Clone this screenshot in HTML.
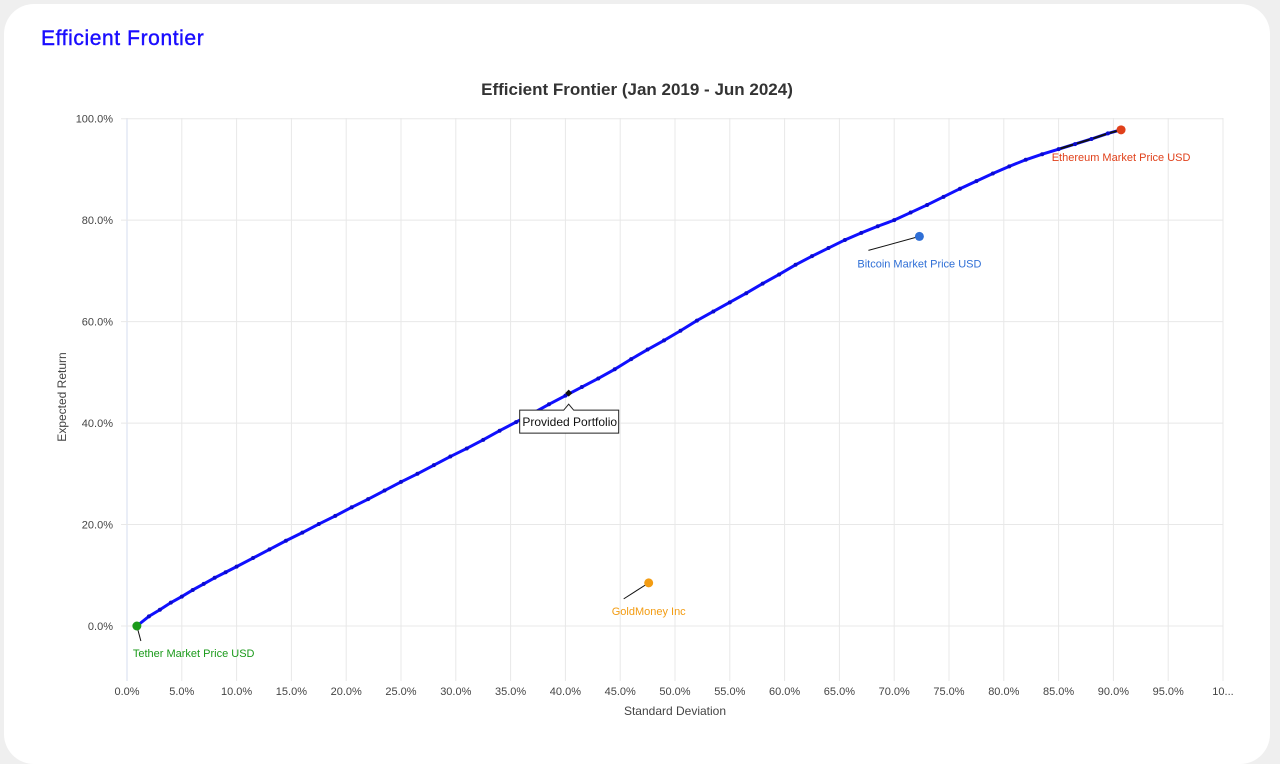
<!DOCTYPE html>
<html><head><meta charset="utf-8"><style>
body{margin:0;background:#efefef;width:1280px;height:733px;overflow:hidden;font-family:"Liberation Sans",sans-serif}
#card{position:absolute;left:4px;top:4px;width:1266px;height:760px;background:#fff;border-radius:30px}
#h{position:absolute;left:41px;top:27px;font-size:21px;color:#1a0dff;letter-spacing:0.6px;-webkit-text-stroke:0.4px #1a0dff}
</style></head><body>
<div id="card"></div>
<div id="h">Efficient Frontier</div>
<svg id="svg" width="1280" height="733" style="position:absolute;left:0;top:0"></svg>
<script>
const xTicks=[0,5,10,15,20,25,30,35,40,45,50,55,60,65,70,75,80,85,90,95,100];
const yTicks=[0,20,40,60,80,100];
const frontierSd=[0.9,2,3,4,5,6,7,8,9,10,11.5,13,14.5,16,17.5,19,20.5,22,23.5,25,26.5,28,29.5,31,32.5,34,35.5,37,38.5,40,41.5,43,44.5,46,47.5,49,50.5,52,53.5,55,56.5,58,59.5,61,62.5,64,65.5,67,68.5,70,71.5,73,74.5,76,77.5,79,80.5,82,83.5,85,86.5,88,89.5,90.7];
const frontierRet=[0,1.9,3.2,4.6,5.8,7.1,8.3,9.5,10.6,11.7,13.4,15.1,16.8,18.4,20.1,21.7,23.4,25,26.7,28.4,30,31.7,33.4,35,36.7,38.5,40.2,41.9,43.7,45.4,47.1,48.8,50.6,52.6,54.5,56.3,58.2,60.2,62,63.8,65.6,67.5,69.3,71.2,72.9,74.5,76.1,77.5,78.8,80,81.5,83,84.6,86.2,87.7,89.2,90.6,91.9,93,94,95,96,97.1,97.8];
const assetNames=["Tether Market Price USD","GoldMoney Inc","Bitcoin Market Price USD","Ethereum Market Price USD"];
const assetSd=[0.9,47.6,72.3,90.7];
const assetRet=[0,8.5,76.8,97.8];
const assetColors=["#1a9a1a","#f39c12","#2f6fd6","#e0401a"];
const portfolioSd=40.3, portfolioRet=45.9;
const X=v=>127+v*10.96, Y=v=>626-v*5.073;
const NS="http://www.w3.org/2000/svg", svg=document.getElementById('svg');
function mk(t,a,p){const e=document.createElementNS(NS,t);for(const k in a)e.setAttribute(k,a[k]);(p||svg).appendChild(e);return e;}
let t=mk('text',{x:637,y:95,'text-anchor':'middle','font-size':17,'font-weight':'bold',fill:'#333'});t.textContent="Efficient Frontier (Jan 2019 - Jun 2024)";

xTicks.forEach(v=>{const l=mk('line',{x1:X(v),x2:X(v),y1:118,y2:681,stroke:v==0?'#d6dcef':'#e8e8e8'});

const tx=mk('text',{x:X(v),y:695,'text-anchor':'middle','font-size':11,fill:'#444'});tx.textContent=v==100?'10...':v.toFixed(1)+'%';
});
yTicks.forEach(v=>{const l=mk('line',{x1:121,x2:1223,y1:Y(v),y2:Y(v),stroke:'#e8e8e8'});

const tx=mk('text',{x:113,y:Y(v)+4,'text-anchor':'end','font-size':11,fill:'#444'});tx.textContent=v.toFixed(1)+'%';
});
t=mk('text',{x:675,y:715,'text-anchor':'middle','font-size':12,fill:'#444'});t.textContent="Standard Deviation";

t=mk('text',{x:0,y:0,'text-anchor':'middle','font-size':12,fill:'#444',transform:'translate(66,397) rotate(-90)'});t.textContent="Expected Return";

let pts=frontierSd.map((s,i)=>X(s)+','+Y(frontierRet[i])).join(' ');
const pl=mk('polyline',{points:pts,fill:'none',stroke:'#1010ff','stroke-width':3});

const bk=frontierSd.map((s,i)=>[s,frontierRet[i]]).filter(p=>p[0]>=85).map(p=>X(p[0])+','+Y(p[1])).join(' ');
const pb=mk('polyline',{points:bk,fill:'none',stroke:'#111','stroke-width':2});

frontierSd.forEach((s,i)=>{const c=mk('circle',{cx:X(s),cy:Y(frontierRet[i]),r:2,fill:'#0a0acc'});
});
const leadDx=[4,-25,-51,0], leadDy=[15,16,14,0];
const labDx=[-4,0,0,0], labDy=[31,32,31,31], anchors=['start','middle','middle','middle'];
assetSd.forEach((s,i)=>{const cx=X(s),cy=Y(assetRet[i]);
if(i<3){const l=mk('line',{x1:cx,y1:cy,x2:cx+leadDx[i],y2:cy+leadDy[i],stroke:'#111'});
}
const c=mk('circle',{cx:cx,cy:cy,r:4.5,fill:assetColors[i]});

const tx=mk('text',{x:cx+labDx[i],y:cy+labDy[i],'font-size':11,fill:assetColors[i],'text-anchor':anchors[i]});
tx.textContent=assetNames[i];
});
const px=X(portfolioSd),py=Y(portfolioRet);
const pm=mk('rect',{x:px-2.5,y:py-2.5,width:5,height:5,fill:'#111',transform:`rotate(45 ${px} ${py})`});

const box=mk('path',{d:`M${px-49},${py+17} H${px-5} L${px},${py+11} L${px+5},${py+17} H${px+50} V${py+40} H${px-49} Z`,fill:'#fff',stroke:'#222','stroke-width':1});

t=mk('text',{x:px+1,y:py+33,'text-anchor':'middle','font-size':12,fill:'#111'});t.textContent="Provided Portfolio";

</script>
</body></html>
